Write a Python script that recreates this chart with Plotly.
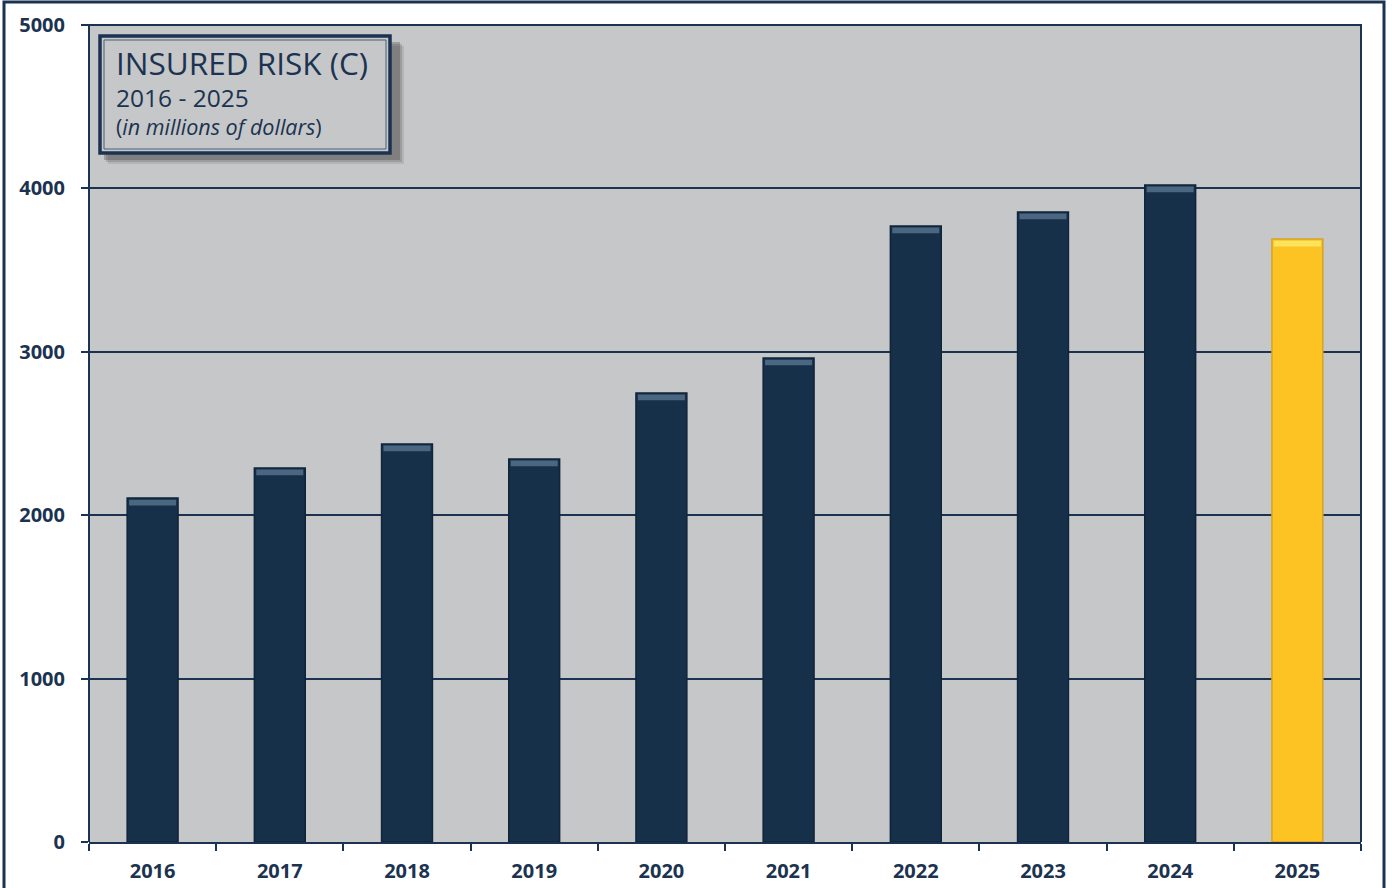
import plotly.graph_objects as go

years = ["2016", "2017", "2018", "2019", "2020", "2021", "2022", "2023", "2024", "2025"]
values = [2105, 2289, 2436, 2344, 2748, 2962, 3770, 3856, 4021, 3690]
bar_colors = ["#17304a"] * 9 + ["#fcc323"]
line_colors = ["#10243a"] * 9 + ["#d6a425"]
top_colors = ["#4b6680"] * 9 + ["#fde45e"]
y_ticks = [0, 1000, 2000, 3000, 4000, 5000]

W, H = 1392, 888
L, R, T, B = 89, 31, 25, 46
PW, PH = W - L - R, H - T - B
NAVY = "#1b3350"
HL = 35  # highlight band thickness in data units


def px(x):
    return (x - L) / PW


def py(y):
    return (H - B - y) / PH


fig = go.Figure()
fig.add_trace(go.Bar(
    x=years, y=values,
    marker=dict(color=bar_colors, line=dict(color=line_colors, width=1.5)),
    width=0.4, hoverinfo="x+y",
))
fig.add_trace(go.Bar(
    x=years, y=[HL] * len(values), base=[v - HL - 10 for v in values],
    marker=dict(color=top_colors, line=dict(width=0)),
    width=0.37, hoverinfo="skip",
))

shapes = []
shapes.append(dict(type="rect", xref="paper", yref="paper",
                   x0=px(4), x1=px(1384), y0=py(2), y1=py(900),
                   line=dict(color=NAVY, width=3), layer="below"))
shapes.append(dict(type="path", xref="paper", yref="paper",
                   path="M 0 0 L 0 1 L 1 1 L 1 0",
                   line=dict(color=NAVY, width=2)))
for i, op in enumerate([0.12, 0.2, 0.3]):
    d = 4 - 2 * i
    shapes.append(dict(type="rect", xref="paper", yref="paper",
                       x0=px(104 + d), x1=px(400 + d), y0=py(42 + d), y1=py(160 + d),
                       fillcolor="#3a3a3a", opacity=op, line=dict(width=0), layer="above"))
shapes.append(dict(type="rect", xref="paper", yref="paper",
                   x0=px(100), x1=px(390), y0=py(36), y1=py(153),
                   fillcolor="#c6c7c9", line=dict(color=NAVY, width=3.5), layer="above"))
shapes.append(dict(type="rect", xref="paper", yref="paper",
                   x0=px(104), x1=px(386), y0=py(40), y1=py(149),
                   fillcolor="rgba(0,0,0,0)", line=dict(color="#4a5f78", width=1), layer="above"))

annotations = [
    dict(text="INSURED RISK (C)", x=px(114), y=py(63), xref="paper", yref="paper",
         xanchor="left", yanchor="middle", showarrow=False,
         font=dict(family="Open Sans", size=31.5, color=NAVY)),
    dict(text="2016 - 2025", x=px(114), y=py(98), xref="paper", yref="paper",
         xanchor="left", yanchor="middle", showarrow=False,
         font=dict(family="Open Sans", size=24.5, color=NAVY)),
    dict(text="(<i>in millions of dollars</i>)", x=px(114), y=py(127), xref="paper", yref="paper",
         xanchor="left", yanchor="middle", showarrow=False,
         font=dict(family="Open Sans", size=21.5, color=NAVY)),
]

fig.update_layout(
    width=W, height=H,
    margin=dict(l=L, r=R, t=T, b=B, pad=0, autoexpand=False),
    paper_bgcolor="white", plot_bgcolor="#c6c7c9",
    showlegend=False, barmode="overlay",
    shapes=shapes, annotations=annotations,
    font=dict(family="Open Sans", color=NAVY),
)
fig.update_xaxes(
    type="category", tickson="boundaries", ticks="outside", ticklen=7, tickwidth=1.5,
    tickcolor=NAVY, showline=True, linecolor=NAVY, linewidth=2, showgrid=False,
    ticklabelstandoff=10, automargin=False,
    tickfont=dict(family="Open Sans", size=20, color=NAVY, weight="bold"),
)
fig.update_yaxes(
    range=[0, 5000], tickvals=y_ticks, ticks="outside", ticklen=7, tickwidth=1.5,
    tickcolor=NAVY, showline=False, showgrid=True, gridcolor=NAVY, gridwidth=2,
    zeroline=False, ticklabelstandoff=12, automargin=False,
    tickfont=dict(family="Open Sans", size=20, color=NAVY, weight="bold"),
)

fig.write_html("out.html")
